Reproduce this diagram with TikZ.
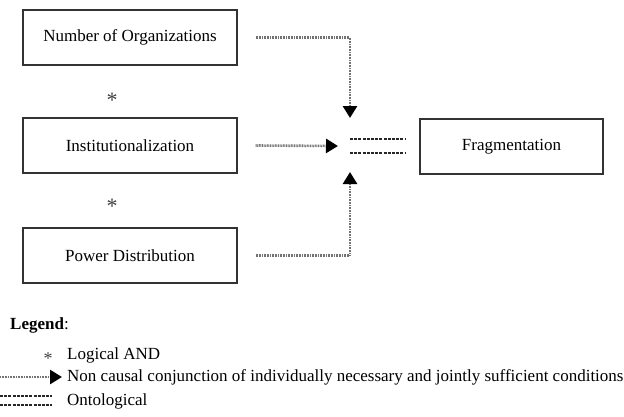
\documentclass[tikz,border=0pt]{standalone}
\usepackage{fontspec}
\setmainfont{Liberation Serif}
\usetikzlibrary{arrows.meta}
\begin{document}
\begin{tikzpicture}[x=1pt,y=-1pt,
    factor/.style={draw=black!80,line width=1.3pt,minimum width=214pt,minimum height=55pt,inner sep=0pt,font=\fontsize{17}{20}\selectfont},
    link/.style={line width=2.6pt,black!55,dash pattern=on 0.9pt off 0.7pt,-{Triangle[length=12pt,width=14pt,black]}},
    onto/.style={line width=1.3pt,black!85,dash pattern=on 3pt off 1.2pt},
    andmark/.style={inner sep=0pt,font=\fontsize{22}{22}\selectfont,black!75},
    legtext/.style={anchor=west,inner sep=0pt,font=\fontsize{17}{20}\selectfont}]
  \useasboundingbox (0,0) rectangle (624,416);
  \node[factor] (num) at (130,37.5) {Number of Organizations};
  \node[factor] (inst) at (130,145.5) {Institutionalization};
  \node[factor] (power) at (130,255.5) {Power Distribution};
  \node[factor,minimum width=183pt] (frag) at (511.5,146.5) {Fragmentation};
  \node[andmark] (and1) at (112,100) {*};
  \node[andmark] (and2) at (112,206) {*};
  % joint point in front of fragmentation
  \coordinate (topin) at (350,118);
  \coordinate (midin) at (338,146);
  \coordinate (lowin) at (350,172);
  \draw[link] ([xshift=18pt]num.east) -| (topin);
  \draw[link] ([xshift=18pt]inst.east) -- (midin);
  \draw[link] ([xshift=18pt]power.east) -| (lowin);
  \coordinate (eqa) at (350,139);
  \coordinate (eqb) at (350,153);
  \draw[onto] (eqa) -- ++(56,0);
  \draw[onto] (eqb) -- ++(56,0);
  % legend
  \node[legtext] (leg) at (10,325) {\textbf{Legend}:};
  \node[andmark,font=\fontsize{18}{18}\selectfont] (legand) at (48,359) {*};
  \node[legtext] (legandtxt) at (67,355) {Logical AND};
  \coordinate (arra) at (0,377);
  \coordinate (arrb) at (62,377);
  \draw[link] (arra) -- (arrb);
  \node[legtext] (legarrtxt) at (67,377) {Non causal conjunction of individually necessary and jointly sufficient conditions};
  \coordinate (ona) at (0,396);
  \coordinate (onb) at (0,405);
  \draw[onto] (ona) -- ++(52,0);
  \draw[onto] (onb) -- ++(52,0);
  \node[legtext] (legontotxt) at (67,401) {Ontological};
\end{tikzpicture}
\end{document}
